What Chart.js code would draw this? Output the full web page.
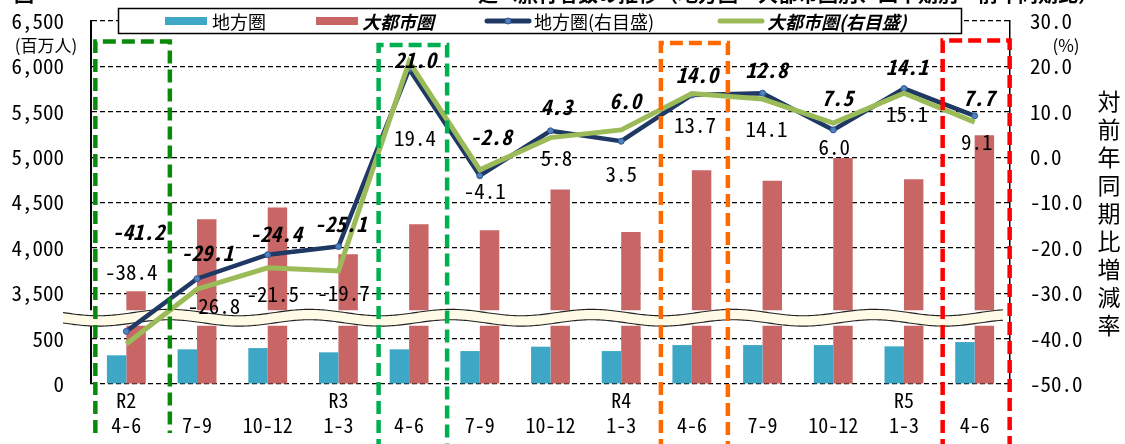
<!DOCTYPE html>
<html>
<head>
<meta charset="utf-8">
<script src="https://cdn.jsdelivr.net/npm/chart.js@4.4.1/dist/chart.umd.min.js"></script>
<style>
  html, body { margin: 0; padding: 0; background: #fff; }
  #wrap { position: relative; width: 1125px; height: 444px; }
  canvas { display: block; }
</style>
</head>
<body>
<div id="wrap"><canvas id="c" width="1125" height="444"></canvas></div>
<script>
// ---------------- data ----------------
const yearLabels    = ["R2", "", "", "R3", "", "", "", "R4", "", "", "", "R5", ""];
const quarterLabels = ["4-6", "7-9", "10-12", "1-3", "4-6", "7-9", "10-12", "1-3", "4-6", "7-9", "10-12", "1-3", "4-6"];

// 延べ旅行者数 (百万人)
const regionalTravelers = [316, 382, 396, 349, 382, 363, 411, 363, 429, 429, 429, 415, 462];
const metroTravelers    = [3522, 4315, 4444, 3929, 4260, 4194, 4642, 4175, 4854, 4741, 4990, 4755, 5240];

// 対前年同期比増減率 (%)
const regionalYoY = [-38.4, -26.8, -21.5, -19.7, 19.4, -4.1, 5.8, 3.5, 13.7, 14.1, 6.0, 15.1, 9.1];
const metroYoY    = [-41.2, -29.1, -24.4, -25.1, 21.0, -2.8, 4.3, 6.0, 14.0, 12.8, 7.5, 14.1, 7.7];

// left (broken) axis tick values and right axis range
const leftLowTicks  = [0, 500];
const leftHighTicks = [3500, 4000, 4500, 5000, 5500, 6000, 6500];
const rightTicks    = [-50, -40, -30, -20, -10, 0, 10, 20, 30];

const seriesNames = ["地方圏", "大都市圏", "地方圏(右目盛)", "大都市圏(右目盛)"];

// ---------------- layout helpers (not data) ----------------
const regionalLabelOffsets = [[5,-59],[17,27],[5,39],[5,47],[6,69],[5,15],[6,27],[0,33],[3,30],[4,36],[1,17],[3,25],[2,26]];
const metroLabelOffsets    = [[12,-112],[10,-36],[8,-34],[2,-47],[6,-2],[11,-33],[6,-31],[4,-29],[5,-19],[4,-29],[4,-25],[3,-26],[4,-24]];
const highlightBoxes = [
  { index: 0,  color: "#0A8A0A", left: -31, right: 43.5, top: 41.5, bottom: 433 },
  { index: 4,  color: "#00B050", left: -30.5, right: 38, top: 45, bottom: 452 },
  { index: 8,  color: "#FF6A00", left: -31, right: 36, top: 43, bottom: 452 },
  { index: 12, color: "#FF0000", left: -32, right: 35, top: 40.5, bottom: 452 }
];

// broken-axis mapping: 0..500 kept, 3500.. shifted down so that 3500 sits one step above 500
const LOW_MAX = 500, HIGH_MIN = 3500, STEP = 500;
const SHIFT = HIGH_MIN - LOW_MAX - STEP; // 2500
const toBroken = v => (v <= LOW_MAX ? v : v - SHIFT);
const fromBroken = d => (d <= LOW_MAX ? d : d + SHIFT);

const MONO = "'Noto Sans Mono CJK JP', 'Noto Sans CJK JP', 'DejaVu Sans Mono', monospace";
const JP = "'Noto Sans CJK JP', sans-serif";

const C_BLUE = "#3EA7C6";
const C_RED = "#C86666";
const C_NAVY = "#1F3864";
const C_GREEN = "#9BBB59";

Chart.defaults.font.family = MONO;
Chart.defaults.color = "#000";

const labels = quarterLabels.map((q, i) => [yearLabels[i], q]);

const noPad = s => { s.paddingTop = 0; s.paddingBottom = 0; s.paddingLeft = 0; s.paddingRight = 0; };

// ---------------- plugins ----------------
const bandPlugin = {
  id: 'axisBreakBand',
  beforeDatasetsDraw(chart) { chart.$bandDone = false; },
  beforeDatasetDraw(chart, args) {
    if (chart.$bandDone) return;
    if (chart.data.datasets[args.index].type !== 'line') return;
    chart.$bandDone = true;
    const ctx = chart.ctx, ca = chart.chartArea, ys = chart.scales.yL;
    const yc = ys.getPixelForValue(LOW_MAX + STEP * 0.46);
    const x0 = ca.left - 28, x1 = ca.right - 7;
    ctx.save();
    ctx.fillStyle = '#fff';
    ctx.fillRect(x0, yc - 7.5, x1 - x0, 15.5);
    const amp = 3.2, period = 141, half = 5.2;
    const wave = x => amp * Math.sin(2 * Math.PI * (x - x0) / period);
    ctx.beginPath();
    for (let x = x0; x <= x1; x += 2) ctx.lineTo(x, yc - half + wave(x));
    for (let x = x1; x >= x0; x -= 2) ctx.lineTo(x, yc + half + wave(x));
    ctx.closePath();
    ctx.fillStyle = '#FFFBE6';
    ctx.fill();
    ctx.strokeStyle = '#222';
    ctx.lineWidth = 1.1;
    ctx.beginPath();
    for (let x = x0; x <= x1; x += 2) ctx.lineTo(x, yc - half + wave(x));
    ctx.stroke();
    ctx.beginPath();
    for (let x = x0; x <= x1; x += 2) ctx.lineTo(x, yc + half + wave(x));
    ctx.stroke();
    ctx.restore();
  }
};

const overlayPlugin = {
  id: 'overlay',
  afterDatasetsDraw(chart) {
    const ctx = chart.ctx, ca = chart.chartArea, xs = chart.scales.x;
    ctx.save();
    // data labels
    ctx.textAlign = 'center';
    ctx.textBaseline = 'middle';
    const navyMeta = chart.getDatasetMeta(2), greenMeta = chart.getDatasetMeta(3);
    ctx.font = "21px " + MONO;
    ctx.fillStyle = '#000';
    navyMeta.data.forEach((pt, i) => {
      const [dx, dy] = regionalLabelOffsets[i];
      ctx.fillText(regionalYoY[i].toFixed(1), pt.x + dx, pt.y + dy);
    });
    ctx.font = "italic bold 21px " + MONO;
    greenMeta.data.forEach((pt, i) => {
      const [dx, dy] = metroLabelOffsets[i];
      ctx.fillText(metroYoY[i].toFixed(1), pt.x + dx, pt.y + dy);
    });

    // highlight boxes
    ctx.lineWidth = 4.5;
    ctx.setLineDash([13, 6]);
    highlightBoxes.forEach(b => {
      const cx = xs.getPixelForValue(b.index);
      ctx.strokeStyle = b.color;
      ctx.beginPath();
      ctx.moveTo(cx + b.left, b.bottom);
      ctx.lineTo(cx + b.left, b.top);
      ctx.lineTo(cx + b.right, b.top);
      ctx.lineTo(cx + b.right, b.bottom);
      ctx.stroke();
    });
    ctx.setLineDash([]);

    // legend
    const lx = 118.5, ly = 8.5, lw = 843, lh = 25;
    ctx.fillStyle = '#fff';
    ctx.fillRect(lx, ly, lw, lh);
    ctx.strokeStyle = '#000';
    ctx.lineWidth = 1.5;
    ctx.strokeRect(lx, ly, lw, lh);
    const my = ly + lh / 2;
    ctx.textAlign = 'left';
    ctx.fillStyle = C_BLUE; ctx.fillRect(165, my - 4, 42, 8);
    ctx.fillStyle = '#000'; ctx.font = "18px " + JP; ctx.fillText(seriesNames[0], 212, my + 1);
    ctx.fillStyle = C_RED; ctx.fillRect(316, my - 4, 42, 8);
    ctx.fillStyle = '#000'; ctx.font = "italic bold 18px " + JP; ctx.fillText(seriesNames[1], 362, my + 1);
    ctx.lineCap = 'round';
    ctx.strokeStyle = C_NAVY; ctx.lineWidth = 5;
    ctx.beginPath(); ctx.moveTo(487, my); ctx.lineTo(529, my); ctx.stroke();
    ctx.lineCap = 'butt';
    ctx.fillStyle = '#4F81BD'; ctx.strokeStyle = '#2F5597'; ctx.lineWidth = 1;
    ctx.beginPath(); ctx.arc(508, my, 3, 0, Math.PI * 2); ctx.fill(); ctx.stroke();
    ctx.fillStyle = '#000'; ctx.font = "18px " + JP; ctx.fillText(seriesNames[2], 534, my + 1);
    ctx.lineCap = 'round';
    ctx.strokeStyle = C_GREEN; ctx.lineWidth = 5;
    ctx.beginPath(); ctx.moveTo(720, my); ctx.lineTo(762, my); ctx.stroke();
    ctx.lineCap = 'butt';
    ctx.fillStyle = '#000'; ctx.font = "italic bold 18px " + JP; ctx.fillText(seriesNames[3], 767, my + 1);

    // unit labels
    ctx.font = "17px " + JP;
    ctx.textAlign = 'center';
    ctx.fillText("(百万人)", 46, 46);
    ctx.fillText("(%)", 1066, 46);

    // right axis title (vertical)
    ctx.font = "23px " + JP;
    const vt = "対前年同期比増減率";
    [...vt].forEach((ch, i) => ctx.fillText(ch, 1109, 101 + i * 28));

    // title (mostly cropped at top)
    ctx.font = "bold 20px " + JP;
    ctx.textAlign = 'left';
    ctx.textBaseline = 'bottom';
    ctx.fillText("図", 14, 4);
    ctx.fillText("延べ旅行者数の推移（地方圏・大都市圏別、四半期別・前年同期比）", 478, 4);
    ctx.restore();
  }
};

const bgPlugin = {
  id: 'bg',
  beforeDraw(chart) {
    const ctx = chart.ctx;
    ctx.save();
    ctx.fillStyle = '#fff';
    ctx.fillRect(0, 0, chart.width, chart.height);
    ctx.restore();
  }
};

// ---------------- chart ----------------
new Chart(document.getElementById('c'), {
  type: 'bar',
  data: {
    labels: labels,
    datasets: [
      { type: 'bar', label: seriesNames[0], data: regionalTravelers.map(toBroken), yAxisID: 'yL',
        backgroundColor: C_BLUE, categoryPercentage: 0.55, barPercentage: 1.0, order: 3 },
      { type: 'bar', label: seriesNames[1], data: metroTravelers.map(toBroken), yAxisID: 'yL',
        backgroundColor: C_RED, categoryPercentage: 0.55, barPercentage: 1.0, order: 3 },
      { type: 'line', label: seriesNames[2], data: regionalYoY, yAxisID: 'yR',
        borderColor: C_NAVY, borderWidth: 4.5, tension: 0,
        pointRadius: 3, pointBackgroundColor: '#4F81BD', pointBorderColor: '#2F5597', pointBorderWidth: 1,
        order: 2 },
      { type: 'line', label: seriesNames[3], data: metroYoY, yAxisID: 'yR',
        borderColor: C_GREEN, borderWidth: 5, tension: 0,
        pointRadius: 0, order: 1 }
    ]
  },
  options: {
    responsive: false,
    animation: false,
    events: [],
    layout: { padding: { top: 21, left: 0, right: 0, bottom: 0 } },
    plugins: { legend: { display: false }, tooltip: { enabled: false }, title: { display: false } },
    scales: {
      x: {
        grid: { display: false },
        border: { display: false },
        ticks: { autoSkip: false, maxRotation: 0, minRotation: 0, padding: -4,
                 font: { size: 20, lineHeight: 1.25, family: MONO }, color: '#000' },
        afterFit: s => { s.height = 60; noPad(s); }
      },
      yL: {
        position: 'left',
        min: 0, max: toBroken(leftHighTicks[leftHighTicks.length - 1]),
        afterBuildTicks: s => {
          s.ticks = leftLowTicks.concat(leftHighTicks).map(v => ({ value: toBroken(v) }));
        },
        ticks: { padding: 27, font: { size: 21, family: MONO }, color: '#000',
                 callback: v => fromBroken(v).toLocaleString('en-US') },
        grid: { color: '#000', lineWidth: 1.2, drawTicks: false },
        border: { display: true, color: '#000', width: 2, dash: [5, 3] },
        afterFit: s => { s.width = 91; noPad(s); }
      },
      yR: {
        position: 'right',
        min: rightTicks[0], max: rightTicks[rightTicks.length - 1],
        afterBuildTicks: s => { s.ticks = rightTicks.map(v => ({ value: v })); },
        ticks: { padding: 20, font: { size: 21, family: MONO }, color: '#000',
                 callback: v => v.toFixed(1) },
        grid: { display: false, drawTicks: false },
        border: { display: true, color: '#000', width: 1.5 },
        afterFit: s => { s.width = 115; noPad(s); }
      }
    }
  },
  plugins: [bgPlugin, bandPlugin, overlayPlugin]
});
</script>
</body>
</html>
